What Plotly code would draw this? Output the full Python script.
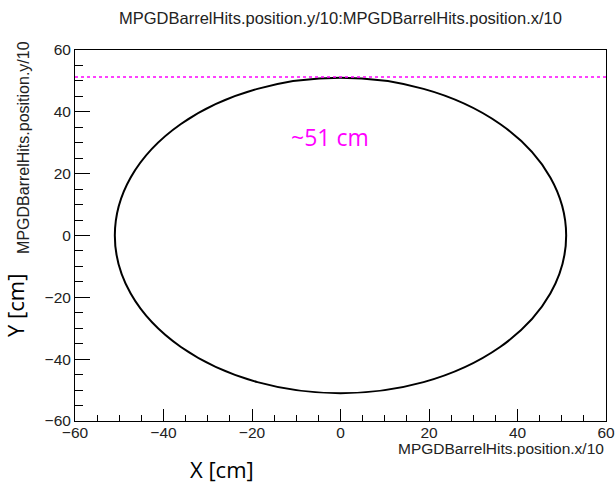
import plotly.graph_objects as go

# data
radius_cm = 51          # MPGD barrel hit radius
marker_y = 51.3         # dotted reference line
label_text = "~51 cm"
x_range = [-60, 60]
y_range = [-60, 60]
tick_vals = [-60, -40, -20, 0, 20, 40, 60]

fig = go.Figure()
# invisible trace to establish axes
fig.add_trace(go.Scatter(x=[x_range[0], x_range[1]], y=[y_range[0], y_range[1]],
                         mode="markers", marker=dict(opacity=0), showlegend=False,
                         hoverinfo="skip"))

fig.add_shape(type="circle", xref="x", yref="y",
              x0=-radius_cm, x1=radius_cm, y0=-radius_cm, y1=radius_cm,
              line=dict(color="black", width=2))
fig.add_shape(type="line", xref="paper", yref="y", x0=0, x1=1, y0=marker_y, y1=marker_y,
              line=dict(color="#ff00ff", width=1.5, dash="dot"))

fig.add_annotation(x=-2.4, y=31.9, xref="x", yref="y", text=label_text, showarrow=False,
                   font=dict(family="Open Sans, Liberation Sans", size=23, color="#ff00ff"))

font_ax = dict(family="Liberation Sans, Arial", size=15.5, color="#222222")
axis_common = dict(showgrid=False, zeroline=False, showline=True, linecolor="black",
                   linewidth=1, mirror=True, ticks="inside", tickcolor="black",
                   tickfont=font_ax, tickvals=tick_vals, automargin=False)
fig.update_xaxes(range=x_range, ticklen=12, ticklabelstandoff=-3,
                 minor=dict(ticks="inside", dtick=5, ticklen=6, tickcolor="black"),
                 **axis_common)
fig.update_yaxes(range=y_range, ticklen=15,
                 minor=dict(ticks="inside", dtick=5, ticklen=8, tickcolor="black"),
                 **axis_common)

# titles
fig.add_annotation(text="MPGDBarrelHits.position.y/10:MPGDBarrelHits.position.x/10",
                   xref="paper", yref="paper", x=0.5, y=1, yshift=32, showarrow=False,
                   font=dict(family="Liberation Sans, Arial", size=16.5, color="#222222"),
                   xanchor="center", yanchor="middle")
fig.add_annotation(text="MPGDBarrelHits.position.x/10", xref="paper", yref="paper",
                   x=1, y=0, yshift=-27, showarrow=False, xanchor="right", yanchor="middle",
                   font=dict(family="Liberation Sans, Arial", size=15.5, color="#222222"))
fig.add_annotation(text="MPGDBarrelHits.position.y/10", xref="paper", yref="paper",
                   x=0, xshift=-51, y=0.736, textangle=-90, showarrow=False,
                   xanchor="center", yanchor="middle",
                   font=dict(family="Liberation Sans, Arial", size=16, color="#222222"))
fig.add_annotation(text="X [cm]", xref="paper", yref="paper", x=0, xshift=147, y=0, yshift=-48,
                   showarrow=False, xanchor="center", yanchor="middle",
                   font=dict(family="Open Sans, Liberation Sans", size=22, color="black"))
fig.add_annotation(text="Y [cm]", xref="paper", yref="paper", x=0, xshift=-60, y=0.31,
                   textangle=-90, showarrow=False, xanchor="center", yanchor="middle",
                   font=dict(family="Open Sans, Liberation Sans", size=22, color="black"))

fig.update_layout(width=615, height=483, margin=dict(l=75, r=9, t=50, b=62),
                  plot_bgcolor="white", paper_bgcolor="white", showlegend=False)
fig.write_html("out.html")
